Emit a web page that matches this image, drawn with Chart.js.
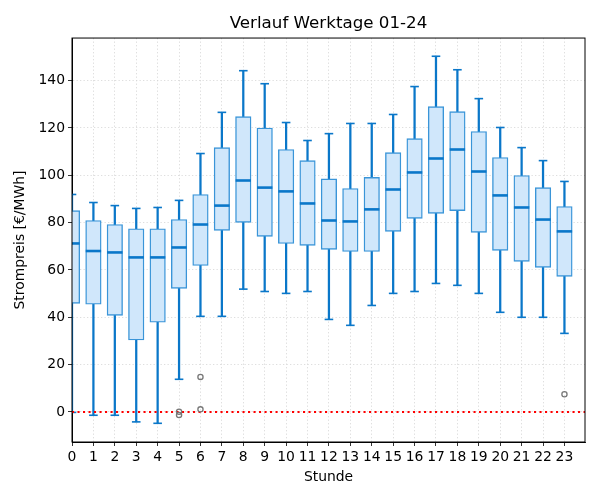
<!doctype html>
<html>
<head>
    <title>Verlauf Werktage 01-24</title>
    <script src="https://cdn.jsdelivr.net/npm/chart.js"></script>
    <style>
        body { margin: 0; background: #fff; }
        #wrap { width: 600px; height: 500px; }
    </style>
</head>
<body>
    <div id="wrap">
        <canvas id="boxplot" width="600" height="500"></canvas>
    </div>

    <script>
        // Daten
        var stunden     = [0, 1, 2, 3, 4, 5, 6, 7, 8, 9, 10, 11, 12, 13, 14, 15, 16, 17, 18, 19, 20, 21, 22, 23];
        var whiskerUnten = [-0.2, -1.4, -1.4, -4.2, -4.8, 13.8, 40.4, 40.4, 51.9, 50.9, 50.1, 50.9, 39.1, 36.6, 45.0, 50.1, 50.9, 54.3, 53.5, 50.1, 42.1, 40.0, 40.0, 33.2];
        var quartil1    = [45.9, 45.5, 40.8, 30.4, 37.9, 52.2, 61.9, 76.7, 80.1, 74.2, 71.2, 70.4, 68.7, 67.8, 67.8, 76.3, 81.8, 83.9, 85.1, 75.9, 68.3, 63.6, 61.1, 57.3];
        var median      = [71.2, 68.0, 67.4, 65.3, 65.3, 69.5, 79.2, 87.2, 97.8, 94.8, 93.2, 88.1, 80.9, 80.5, 85.6, 94.0, 101.2, 107.1, 110.9, 101.6, 91.5, 86.4, 81.3, 76.3];
        var quartil3    = [85.1, 80.9, 79.2, 77.4, 77.4, 81.3, 91.9, 111.7, 124.8, 120.0, 110.9, 106.2, 98.5, 94.4, 99.1, 109.6, 115.5, 129.0, 126.9, 118.5, 107.5, 99.9, 94.8, 86.8];
        var whiskerOben = [91.9, 88.5, 87.2, 86.0, 86.4, 89.4, 109.2, 126.6, 144.2, 138.7, 122.3, 114.7, 117.6, 121.9, 121.9, 125.7, 137.5, 150.3, 144.6, 132.4, 120.2, 111.7, 106.2, 97.4];
        var ausreisserStunde = [5, 5, 6, 6, 23];
        var ausreisserWert   = [0.1, -1.3, 14.8, 1.1, 7.5];

        var dunkelBlau = '#0a77c9';

        // Punkte für die Datensätze aufbauen
        var whiskerDaten = stunden.map((s, i) => ({ x: s, y: [whiskerUnten[i], whiskerOben[i]] }));
        var boxDaten = stunden.map((s, i) => ({ x: s, y: [quartil1[i], quartil3[i]] }));
        var medianDaten = stunden.map((s, i) => ({ x: s, y: median[i] }));
        var kappenDaten = stunden.map((s, i) => ({ x: s, y: whiskerUnten[i] }))
            .concat(stunden.map((s, i) => ({ x: s, y: whiskerOben[i] })));
        var ausreisserDaten = ausreisserStunde.map((s, i) => ({ x: s, y: ausreisserWert[i] }));

        // Rahmen um die Zeichenfläche (wie bei matplotlib) und Titel über der Zeichenfläche zentrieren
        var rahmen = {
            id: 'rahmen',
            afterLayout(chart) {
                if (chart.titleBlock) {
                    chart.titleBlock.left = chart.chartArea.left;
                    chart.titleBlock.right = chart.chartArea.right;
                }
            },
            afterDraw(chart) {
                var a = chart.chartArea;
                var ctx = chart.ctx;
                ctx.save();
                ctx.strokeStyle = '#000';
                ctx.lineWidth = 1;
                ctx.strokeRect(a.left, a.top, a.right - a.left, a.bottom - a.top);
                ctx.restore();
            }
        };

        var schrift = { family: 'DejaVu Sans', size: 13.9 };

        new Chart(document.getElementById('boxplot').getContext('2d'), {
            type: 'bar',
            data: {
                datasets: [
                    {
                        type: 'line',
                        data: [{ x: 0, y: 0 }, { x: 23.96, y: 0 }],
                        borderColor: '#ff0000',
                        borderWidth: 2,
                        borderDash: [2.1, 3.4],
                        pointRadius: 0,
                        clip: 0,
                        order: 2
                    },
                    {
                        type: 'scatter',
                        data: ausreisserDaten,
                        pointStyle: 'circle',
                        radius: 2.6,
                        borderWidth: 1.3,
                        borderColor: '#777777',
                        backgroundColor: 'rgba(255,255,255,0)',
                        clip: 0,
                        order: 1
                    },
                    {
                        type: 'scatter',
                        data: medianDaten,
                        pointStyle: 'line',
                        radius: 7.7,
                        borderWidth: 2.6,
                        borderColor: dunkelBlau,
                        clip: 0,
                        order: 3
                    },
                    {
                        type: 'scatter',
                        data: kappenDaten,
                        pointStyle: 'line',
                        radius: 4.3,
                        borderWidth: 1.6,
                        borderColor: dunkelBlau,
                        clip: 0,
                        order: 4
                    },
                    {
                        type: 'bar',
                        data: boxDaten,
                        grouped: false,
                        barThickness: 15.5,
                        backgroundColor: '#d0e7fb',
                        borderColor: '#3a95d8',
                        borderWidth: 1.4,
                        borderSkipped: false,
                        clip: 0,
                        order: 5
                    },
                    {
                        type: 'bar',
                        data: whiskerDaten,
                        grouped: false,
                        barThickness: 1.6,
                        backgroundColor: dunkelBlau,
                        borderWidth: 0,
                        clip: 0,
                        order: 6
                    }
                ]
            },
            options: {
                responsive: false,
                animation: false,
                events: [],
                layout: { padding: { left: 0, right: 15, top: 0, bottom: 0 } },
                plugins: {
                    legend: { display: false },
                    tooltip: { enabled: false },
                    title: {
                        display: true,
                        text: 'Verlauf Werktage 01-24',
                        color: '#000',
                        font: { family: 'DejaVu Sans', size: 16.7, weight: 'normal' },
                        padding: { top: 14, bottom: 4 }
                    }
                },
                scales: {
                    x: {
                        type: 'linear',
                        min: 0,
                        max: 23.96,
                        offset: false,
                        afterFit: (s) => { s.height = 58; },
                        ticks: {
                            stepSize: 1,
                            includeBounds: false,
                            autoSkip: false,
                            maxRotation: 0,
                            color: '#000',
                            padding: 3,
                            font: schrift
                        },
                        grid: {
                            offset: false,
                            color: '#d6d6d6',
                            lineWidth: 0.8,
                            tickColor: '#000',
                            tickLength: 4
                        },
                        border: { display: true, color: '#000', dash: [1.3, 2.2] },
                        title: {
                            display: true,
                            text: 'Stunde',
                            color: '#000',
                            font: schrift,
                            padding: { top: 0, bottom: 14.5 }
                        }
                    },
                    y: {
                        type: 'linear',
                        min: -12.7,
                        max: 158,
                        afterFit: (s) => { s.width = 72; },
                        ticks: {
                            stepSize: 20,
                            includeBounds: false,
                            color: '#000',
                            padding: 3,
                            font: schrift
                        },
                        grid: {
                            color: '#d6d6d6',
                            lineWidth: 0.8,
                            tickColor: '#000',
                            tickLength: 4
                        },
                        border: { display: true, color: '#000', dash: [1.3, 2.2] },
                        title: {
                            display: true,
                            text: 'Strompreis [€/MWh]',
                            color: '#000',
                            font: schrift,
                            padding: { top: 12.5, bottom: 0 }
                        }
                    }
                }
            },
            plugins: [rahmen]
        });
    </script>
</body>
</html>
